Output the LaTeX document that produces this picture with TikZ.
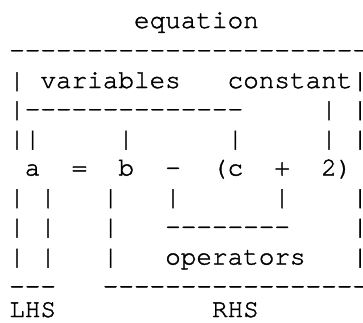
\documentclass[tikz,border=0pt]{standalone}
\usepackage{fontspec}
\setmonofont[FakeBold=1.5]{TeX Gyre Cursor}
\tikzset{asc/.style={inner sep=0pt,outer sep=0pt,anchor=base west,
  font=\ttfamily\fontsize{26}{30}\selectfont,text=black}}
\newcommand\ascii[4]{\node[asc] (#1) at ({9.2+15.6*#2},{-#3}) {#4};}
\begin{document}
\begin{tikzpicture}[x=1pt,y=1pt]
\useasboundingbox (0,0) rectangle (363,-322);
% row 0
\ascii{title}{8}{28}{equation}
% row 1
\ascii{topline}{0}{58}{-----------------------}
% row 2
\ascii{r2a}{0}{88}{|}
\ascii{variables}{2}{88}{variables}
\ascii{constant}{14}{88}{constant|}
% row 3
\ascii{varline}{0}{117}{|--------------}
\ascii{r3b}{20}{117}{|}
\ascii{r3c}{22}{117}{|}
% row 4
\ascii{r4a}{0}{146.5}{||}
\ascii{r4b}{7}{146.5}{|}
\ascii{r4c}{14}{146.5}{|}
\ascii{r4d}{20}{146.5}{|}
\ascii{r4e}{22}{146.5}{|}
% row 5
\ascii{a}{1}{175.5}{a}
\ascii{eq}{4}{175.5}{=}
\ascii{b}{7}{175.5}{b}
\ascii{minus}{10}{175.5}{-}
\ascii{c}{13}{175.5}{(c}
\ascii{plus}{17}{175.5}{+}
\ascii{two}{20}{175.5}{2)}
% row 6
\ascii{r6a}{0}{205}{|}
\ascii{r6b}{2}{205}{|}
\ascii{r6c}{6}{205}{|}
\ascii{r6d}{10}{205}{|}
\ascii{r6e}{17}{205}{|}
\ascii{r6f}{22}{205}{|}
% row 7
\ascii{r7a}{0}{234.5}{|}
\ascii{r7b}{2}{234.5}{|}
\ascii{r7c}{6}{234.5}{|}
\ascii{opline}{10}{234.5}{--------}
\ascii{r7e}{22}{234.5}{|}
% row 8
\ascii{r8a}{0}{264.5}{|}
\ascii{r8b}{2}{264.5}{|}
\ascii{r8c}{6}{264.5}{|}
\ascii{operators}{10}{264.5}{operators}
\ascii{r8e}{22}{264.5}{|}
% row 9
\ascii{lhsline}{0}{294}{---}
\ascii{rhsline}{6}{294}{-----------------}
% row 10
\ascii{lhs}{0}{317}{LHS}
\ascii{rhs}{13}{317}{RHS}
\end{tikzpicture}
\end{document}
